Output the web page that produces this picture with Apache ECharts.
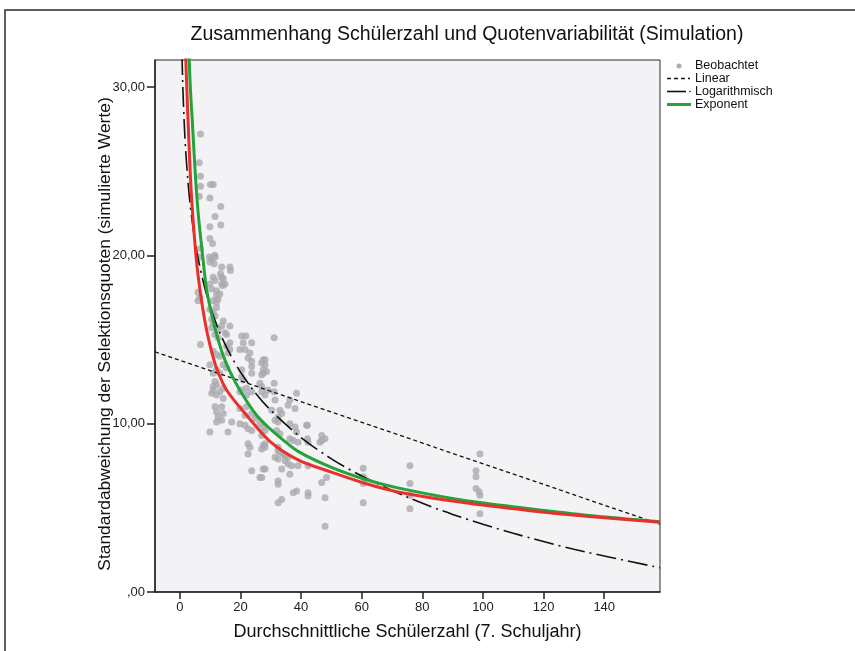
<!DOCTYPE html>
<html>
<head>
<meta charset="utf-8">
<script src="https://cdn.jsdelivr.net/npm/echarts@6/dist/echarts.min.js"></script>
<style>
html,body{margin:0;padding:0;background:#fff;}
#chart{width:855px;height:651px;}
</style>
</head>
<body>
<div id="chart"></div>
<script>
// ---- data ----
var obsX = [6.8,6.4,6.8,6.8,10.1,11.0,6.4,9.9,13.5,11.6,13.5,9.9,9.9,10.8,6.8,9.7,11.5,6.4,
  10.5,11.6,9.9,11.3,13.8,16.5,16.7,13.4,13.8,11.0,11.6,14.3,13.8,14.9,14.1,9.9,10.5,12.1,13.2,12.1,6.0,6.6,6.0,11.0,12.1,12.6,12.1,9.9,11.0,11.6,10.5,14.3,16.5,13.8,11.0,10.5,12.6,14.9,15.4,11.6,12.6,20.4,21.8,6.8,16.5,15.4,20.9,23.7,19.8,21.5,16.5,15.9,11.0,12.1,13.2,23.1,22.5,23.7,27.5,28.1,27.0,9.9,14.3,15.4,
  12.1,11.0,13.2,20.4,23.7,27.5,27.5,27.0,20.4,20.9,23.7,11.6,12.1,11.0,26.4,27.0,11.0,13.2,14.3,20.4,22.0,23.7,27.0,29.1,
  10.5,12.1,14.3,19.8,22.0,11.6,13.8,12.1,14.3,12.6,13.8,12.1,17.1,9.9,15.9,19.8,21.5,22.5,23.7,21.5,23.7,24.8,19.8,22.0,26.4,27.5,28.1,27.0,22.5,23.1,22.5,27.0,27.5,28.1,23.7,27.5,27.0,26.4,
  31.1,28.1,28.6,31.1,31.1,31.4,28.1,38.5,36.3,35.7,38.0,30.3,33.0,33.6,32.4,31.4,36.3,38.0,38.5,32.4,31.9,33.0,42.1,42.1,36.3,37.4,46.8,47.9,46.8,32.4,33.0,34.7,35.7,31.4,28.1,
  32.4,34.1,32.4,34.7,35.7,33.6,36.9,39.0,28.1,32.4,32.4,36.3,42.3,48.4,46.2,42.3,39.0,46.8,37.4,38.5,42.3,42.3,47.9,33.6,32.4,47.9,41.8,
  60.5,60.5,60.5,60.5,75.9,75.9,75.9,75.9,99.0,97.7,97.7,97.7,98.7,99.0,99.0];
var obsY = [27.2,25.5,24.7,24.1,24.2,24.2,23.5,23.4,22.9,22.3,21.8,21.7,21.0,20.7,20.4,19.9,20.0,19.9,
  19.8,19.9,19.6,19.5,19.3,19.3,19.1,18.9,18.7,18.7,18.5,18.6,18.3,18.3,18.2,18.3,18.0,17.9,17.7,17.6,17.8,17.5,17.3,17.3,17.2,17.4,16.9,16.8,16.6,16.4,16.2,16.1,15.8,15.8,15.9,15.7,15.6,15.4,15.3,15.3,15.1,15.2,15.2,14.7,14.8,14.6,14.8,14.8,14.4,14.4,14.4,14.2,14.3,14.1,14.0,14.2,13.9,13.7,13.8,13.8,13.6,13.5,13.5,13.3,
  13.2,13.0,13.0,13.2,13.4,13.2,13.0,12.9,12.8,12.6,13.0,12.5,12.3,12.2,12.4,12.2,12.0,11.9,12.1,12.0,12.1,11.9,11.9,12.0,
  11.8,11.7,11.5,11.9,11.7,11.0,11.0,10.7,10.6,10.4,10.2,10.1,10.1,9.5,9.5,10.0,9.9,9.7,9.6,10.5,10.6,10.3,10.9,11.0,10.0,9.8,9.6,9.3,8.8,8.6,8.2,8.5,8.7,8.8,7.2,7.3,6.8,6.8,
  15.1,13.5,13.1,12.4,11.9,11.4,11.7,11.8,11.4,11.1,10.9,10.8,10.8,10.6,10.4,10.2,10.0,9.8,9.5,10.1,9.6,9.4,9.9,9.1,9.1,9.0,9.3,9.1,9.0,8.6,8.3,8.1,8.0,8.0,8.6,
  8.4,8.2,7.9,7.8,7.6,7.3,7.5,7.5,7.3,6.6,6.4,7.0,7.5,6.8,8.9,8.9,8.9,6.5,5.9,6.0,5.9,5.7,5.6,5.5,5.3,3.9,9.9,
  7.35,6.85,6.45,5.3,7.5,6.45,5.75,4.95,8.2,7.2,6.85,6.15,5.95,5.75,4.65];

var linX = [-8.2, 158.4];
var linY = [14.27, 4.03];

var logX = [0.7,1,1.5,2,3,4,5,6,8,10,13,16,20,25,30,40,50,60,75,90,110,130,158.4];
var logY = [31.9,29.9,27.62,26.0,23.72,22.11,20.86,19.83,18.22,16.96,15.48,14.32,13.06,11.81,10.79,9.17,7.91,6.89,5.64,4.61,3.49,2.54,1.44];

var expX = [3.0,3.5,4.1,5.0,6.0,7.5,8.8,11.0,13.8,16.5,20.4,25.3,29.7,33.6,39,50,61,71.5,93.5,115.5,135,158.4];
var expY = [32.0,29.8,28.0,25.1,22.6,20.0,18.0,16.1,14.3,13.1,11.8,10.5,9.7,9.1,8.35,7.4,6.7,6.2,5.45,4.95,4.55,4.18];

var redX = [1.9,2.3,2.7,3.8,5.3,6.6,8.25,9.9,12.1,15.4,22,29.7,39,50,61,71.5,93.5,115.5,135,158.4];
var redY = [32.0,29.9,28.0,23.6,20.0,18.0,16.1,14.7,13.3,12.0,10.5,8.95,7.85,7.12,6.46,5.96,5.31,4.83,4.48,4.15];

var xTicks = [0,20,40,60,80,100,120,140];
var yTicks = [0,10,20,30];
var yTickLabels = [',00','10,00','20,00','30,00'];

var titleText = 'Zusammenhang Schülerzahl und Quotenvariabilität (Simulation)';
var xName = 'Durchschnittliche Schülerzahl (7. Schuljahr)';
var yName = 'Standardabweichung der Selektionsquoten (simulierte Werte)';
var legendNames = ['Beobachtet','Linear','Logarithmisch','Exponent'];

function zip(a,b){ return a.map(function(v,i){ return [v,b[i]]; }); }

var FONT = '"Liberation Sans", Arial, Helvetica, sans-serif';
var chart = echarts.init(document.getElementById('chart'), null, {renderer:'canvas'});

var lx = 667, ly = [66,78.5,91.5,104.5];
var option = {
  animation:false,
  backgroundColor:'#ffffff',
  textStyle:{fontFamily:FONT},
  grid:{left:155, top:60, right:195, bottom:59, show:true, backgroundColor:'#f3f3f6', borderColor:'#2a2a2a', borderWidth:1,
    containLabel:false, outerBoundsMode:'none'},
  xAxis:{
    type:'value', min:-8.2, max:158.4,
    axisLine:{show:true, onZero:false, lineStyle:{color:'#222', width:1.5}},
    axisTick:{show:true, length:7, lineStyle:{color:'#222', width:1.5}, customValues:xTicks},
    axisLabel:{color:'#222', fontSize:13, fontFamily:FONT, margin:9, customValues:xTicks},
    splitLine:{show:false},
    name:xName, nameLocation:'middle', nameGap:31, nameMoveOverlap:false,
    nameTextStyle:{fontSize:18, color:'#111', fontFamily:FONT}
  },
  yAxis:{
    type:'value', min:0, max:31.6,
    axisLine:{show:true, onZero:false, lineStyle:{color:'#222', width:1.5}},
    axisTick:{show:true, length:8, lineStyle:{color:'#222', width:1.5}, customValues:yTicks},
    axisLabel:{color:'#222', fontSize:13, fontFamily:FONT, margin:10, customValues:yTicks,
      formatter:function(v){ var i = yTicks.indexOf(v); return i>=0 ? yTickLabels[i] : ''; }},
    splitLine:{show:false},
    name:yName, nameLocation:'middle', nameGap:41, nameRotate:90, nameMoveOverlap:false,
    nameTextStyle:{fontSize:17.4, color:'#111', fontFamily:FONT, padding:[0,16,0,0]}
  },
  series:[
    {name:legendNames[0], type:'scatter', data:zip(obsX,obsY), symbolSize:7,
      itemStyle:{color:'#aaaaaf'}, z:2},
    {name:legendNames[1], type:'line', data:zip(linX,linY), showSymbol:false, symbol:'none',
      lineStyle:{color:'#111', width:1.3, type:[4,3]}, z:3},
    {name:legendNames[2], type:'line', data:zip(logX,logY), showSymbol:false, symbol:'none', smooth:0.3,
      lineStyle:{color:'#111', width:1.6, type:[20,5,2,5]}, z:3},
    {name:legendNames[3], type:'line', data:zip(expX,expY), showSymbol:false, symbol:'none', smooth:0.3,
      lineStyle:{color:'#23a33a', width:3}, z:4},
    {name:'Anpassung', type:'line', data:zip(redX,redY), showSymbol:false, symbol:'none', smooth:0.3,
      lineStyle:{color:'#e8302c', width:3}, z:5}
  ],
  graphic:[
    {type:'rect', shape:{x:5, y:10, width:870, height:670}, style:{fill:'none', stroke:'#2a2a2a', lineWidth:1.5}, silent:true},
    {type:'text', x:467, y:35, style:{text:titleText, font:'19.5px '+FONT, fill:'#111', textAlign:'center', textVerticalAlign:'middle'}},
    {type:'circle', shape:{cx:679, cy:ly[0], r:2.5}, style:{fill:'#aaaaaf'}},
    {type:'line', shape:{x1:lx, y1:ly[1], x2:lx+23, y2:ly[1]}, style:{stroke:'#111', lineWidth:1.3, lineDash:[4,3]}},
    {type:'line', shape:{x1:lx, y1:ly[2], x2:lx+19, y2:ly[2]}, style:{stroke:'#111', lineWidth:1.6}},
    {type:'circle', shape:{cx:lx+23, cy:ly[2], r:0.8}, style:{fill:'#111'}},
    {type:'line', shape:{x1:lx, y1:ly[3], x2:lx+24, y2:ly[3]}, style:{stroke:'#23a33a', lineWidth:3}},
    {type:'text', x:695, y:ly[0], style:{text:legendNames[0], font:'12.5px '+FONT, fill:'#111', textVerticalAlign:'middle'}},
    {type:'text', x:695, y:ly[1], style:{text:legendNames[1], font:'12.5px '+FONT, fill:'#111', textVerticalAlign:'middle'}},
    {type:'text', x:695, y:ly[2], style:{text:legendNames[2], font:'12.5px '+FONT, fill:'#111', textVerticalAlign:'middle'}},
    {type:'text', x:695, y:ly[3], style:{text:legendNames[3], font:'12.5px '+FONT, fill:'#111', textVerticalAlign:'middle'}}
  ]
};
chart.setOption(option);
</script>
</body>
</html>
